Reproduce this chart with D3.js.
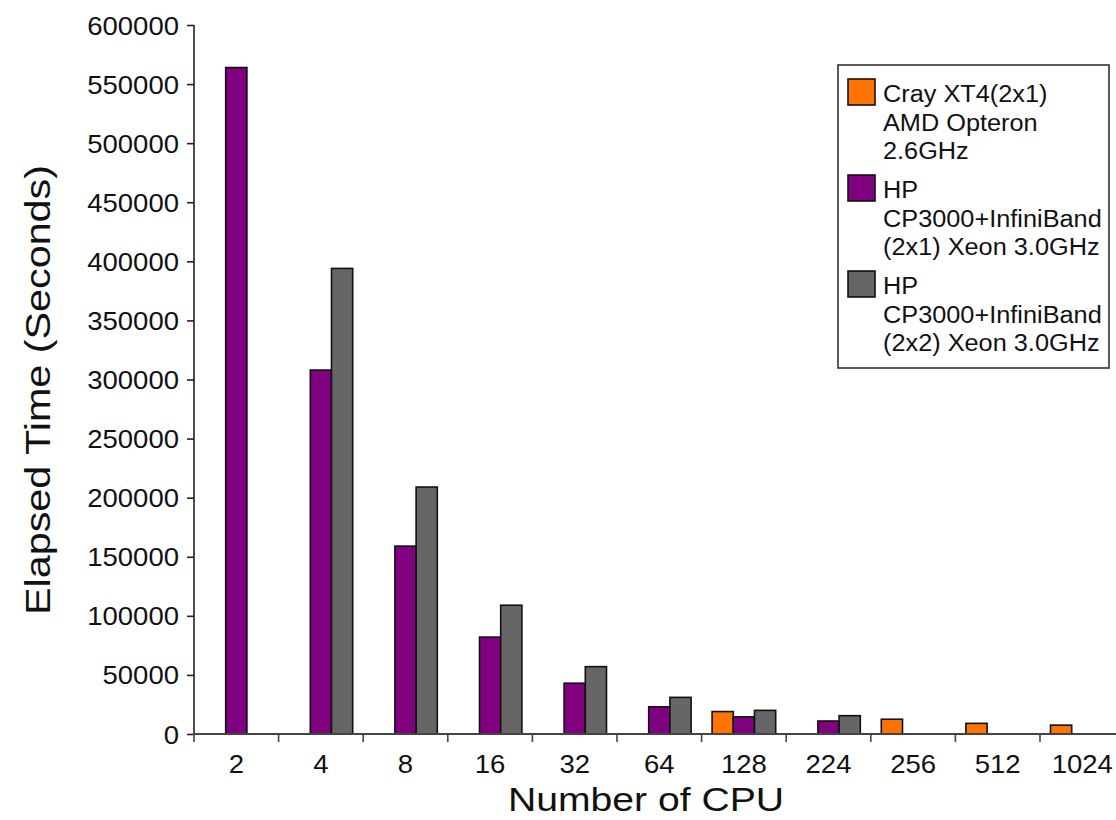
<!DOCTYPE html>
<html>
<head>
<meta charset="utf-8">
<script src="https://cdn.jsdelivr.net/npm/d3@7/dist/d3.min.js"></script>
<style>
  html, body { margin: 0; padding: 0; background: #fff; }
  svg { display: block; font-family: "Liberation Sans", Arial, sans-serif; }
</style>
</head>
<body>
<svg id="chart" width="1116" height="820"></svg>
<script>
// Number of CPUs on the x axis
const cpuCounts = ["2", "4", "8", "16", "32", "64", "128", "224", "256", "512", "1024"];

// Elapsed time in seconds per system (null = no run)
const crayXT4 = [null, null, null, null, null, null, 19000, null, 12500, 9000, 7500];
const hp2x1   = [564000, 308000, 159000, 82000, 43000, 23000, 14500, 11000, null, null, null];
const hp2x2   = [null, 394000, 209000, 109000, 57000, 31000, 20000, 15500, null, null, null];

const yTicks = [0, 50000, 100000, 150000, 200000, 250000, 300000, 350000, 400000, 450000, 500000, 550000, 600000];

const seriesNames = ["cray", "hp21", "hp22"];
const seriesColors = ["#FF7300", "#800080", "#666666"];
const legendLabels = [
  ["Cray XT4(2x1)", "AMD Opteron", "2.6GHz"],
  ["HP", "CP3000+InfiniBand", "(2x1) Xeon 3.0GHz"],
  ["HP", "CP3000+InfiniBand", "(2x2) Xeon 3.0GHz"]
];

const rows = cpuCounts.map((c, i) => ({
  cpu: c,
  values: [crayXT4[i], hp2x1[i], hp2x2[i]]
}));

const svg = d3.select("#chart");
const plotLeft = 194, plotBottom = 734, plotTop = 25;
const step = 84.6;

// glyphs in this figure are drawn slightly wide
function widen(sel, k) {
  sel.each(function () {
    const w = this.getComputedTextLength();
    this.setAttribute("textLength", w * k);
    this.setAttribute("lengthAdjust", "spacingAndGlyphs");
  });
}

const x0 = d3.scaleBand().domain(cpuCounts)
  .range([plotLeft, plotLeft + step * cpuCounts.length]).padding(0);
const x1 = d3.scaleBand().domain(seriesNames)
  .range([10.5, x0.bandwidth() - 10.5]).padding(0);
const y = d3.scaleLinear().domain([0, 600000]).range([plotBottom, plotTop]);

// bars
const groups = svg.append("g").selectAll("g").data(rows).join("g")
  .attr("transform", d => `translate(${x0(d.cpu)},0)`);
groups.selectAll("rect")
  .data(d => d.values.map((v, j) => ({ v, j })).filter(e => e.v != null))
  .join("rect")
  .attr("x", e => x1(seriesNames[e.j]))
  .attr("width", x1.bandwidth())
  .attr("y", e => y(e.v))
  .attr("height", e => y(0) - y(e.v))
  .attr("fill", e => seriesColors[e.j])
  .attr("stroke", "#111")
  .attr("stroke-width", 1.6);

// y axis
const yAxis = svg.append("g")
  .attr("transform", `translate(${plotLeft},0)`)
  .call(d3.axisLeft(y).tickValues(yTicks).tickFormat(d3.format("d")).tickSize(7).tickPadding(8));
yAxis.select(".domain").attr("stroke", "#222").attr("stroke-width", 1.6)
  .attr("d", `M0,${plotTop}V${plotBottom}`);
yAxis.selectAll(".tick line").attr("stroke", "#222").attr("stroke-width", 1.6);
yAxis.selectAll(".tick text").attr("font-size", 25).attr("fill", "#111")
  .attr("font-family", "Liberation Sans, Arial, sans-serif").attr("dy", "0.36em");
widen(yAxis.selectAll(".tick text"), 1.1);

// x axis: baseline, boundary ticks and centred labels
svg.append("line")
  .attr("x1", plotLeft).attr("x2", 1116)
  .attr("y1", y(0)).attr("y2", y(0))
  .attr("stroke", "#444").attr("stroke-width", 1.8);
svg.append("g").selectAll("line")
  .data(cpuCounts)
  .join("line")
  .attr("x1", d => x0(d)).attr("x2", d => x0(d))
  .attr("y1", y(0)).attr("y2", y(0) + 8)
  .attr("stroke", "#444").attr("stroke-width", 1.6);
const xLabels = svg.append("g").selectAll("text")
  .data(cpuCounts)
  .join("text")
  .attr("x", d => x0(d) + x0.bandwidth() / 2)
  .attr("y", 773)
  .attr("text-anchor", "middle")
  .attr("font-size", 25)
  .attr("fill", "#111")
  .text(d => d);
widen(xLabels, 1.1);

// axis titles
const xTitle = svg.append("text")
  .attr("x", 646).attr("y", 811)
  .attr("text-anchor", "middle")
  .attr("font-size", 34)
  .attr("fill", "#111")
  .text("Number of CPU");
widen(xTitle, 1.15);

const yTitle = svg.append("text")
  .attr("transform", "translate(50,390) rotate(-90)")
  .attr("text-anchor", "middle")
  .attr("font-size", 35)
  .attr("fill", "#111")
  .attr("textLength", 450)
  .attr("lengthAdjust", "spacingAndGlyphs")
  .text("Elapsed Time (Seconds)");

// legend
const legend = svg.append("g");
legend.append("rect")
  .attr("x", 838).attr("y", 65).attr("width", 271).attr("height", 303)
  .attr("fill", "#fff").attr("stroke", "#333").attr("stroke-width", 1.6);
legendLabels.forEach((lines, i) => {
  const top = 79 + i * 96;
  legend.append("rect")
    .attr("x", 848).attr("y", top).attr("width", 27).attr("height", 26)
    .attr("fill", seriesColors[i]).attr("stroke", "#111").attr("stroke-width", 1.6);
  lines.forEach((line, k) => {
    const t = legend.append("text")
      .attr("x", 883).attr("y", top + 23 + k * 28.5)
      .attr("font-size", 23)
      .attr("fill", "#111")
      .text(line);
    widen(t, 1.1);
  });
});
</script>
</body>
</html>
